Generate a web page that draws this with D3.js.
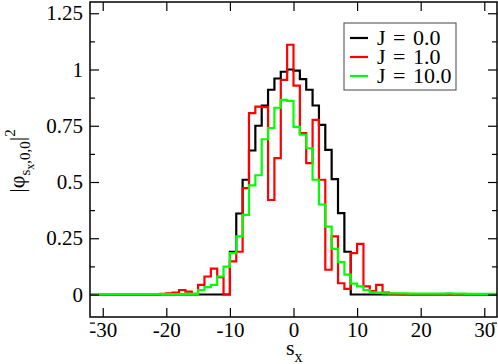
<!DOCTYPE html>
<html>
<head>
<meta charset="utf-8">
<script src="https://cdn.jsdelivr.net/npm/d3@7"></script>
<style>
  body { margin: 0; background: #fff; }
  text { font-family: "Liberation Serif", "Times New Roman", serif; fill: #000; }
</style>
</head>
<body>
<div id="chart"></div>
<script>
// s_x bins from -32 to 31 (left edge of each step)
var sx = d3.range(-32, 32);

var J0 = [0,0,0,0,0,0,0,0,0,0,0,0,0,0,0,0,
          0,0,0,0,0,0,0.19,0.36,0.51,0.64,0.75,0.84,0.91,0.96,0.99,1.0,
          0.995,0.957,0.91,0.84,0.754,0.643,0.513,0.362,0.19,0,0,0,0,0,0,0,
          0,0,0,0,0,0,0,0,0,0,0,0,0,0,0,0];

var J1 = [0,0,0,0,0,0,0,0,0,0,0,0.003,0.005,0.009,0.02,0.013,
          0.003,0.043,0.08,0.115,0.077,0.0,0.147,0.19,0.473,0.806,0.835,0.833,0.42,0.606,0.954,1.11,
          0.928,0.717,0.584,0.776,0.51,0.11,0.258,0.05,0.025,0.184,0.225,0.036,0.015,0.043,0.008,0.004,
          0.002,0,0,0,0,0,0,0,0,0,0,0,0,0,0,0];

var J10 = [0.002,0.002,0.002,0.002,0.002,0.002,0.002,0.002,0.002,0.002,0.002,0.002,0.002,0.002,0.002,0.003,
           0.003,0.02,0.033,0.043,0.08,0.124,0.184,0.258,0.354,0.485,0.53,0.69,0.74,0.83,0.865,0.861,
           0.745,0.71,0.65,0.51,0.4,0.302,0.203,0.144,0.088,0.048,0.036,0.02,0.01,0.008,0.005,0.005,
           0.005,0.005,0.004,0.004,0.004,0.004,0.004,0.004,0.005,0.004,0.004,0.003,0.003,0.003,0.003,0.003];

var seriesNames = ["J = 0.0", "J = 1.0", "J = 10.0"];
var seriesColors = ["#000000", "#ff0000", "#00ff00"];
var seriesValues = [J0, J1, J10];

var xTicks = [-30, -20, -10, 0, 10, 20, 30];
var yTicks = [0, 0.25, 0.5, 0.75, 1, 1.25];
var yMinor = [-0.125, 0.125, 0.375, 0.625, 0.875, 1.125];

var svgWidth = 498, svgHeight = 364;
var margin = {top: 2, right: 1, bottom: 47, left: 90};
var width = svgWidth - margin.left - margin.right;
var height = svgHeight - margin.top - margin.bottom;

var svg = d3.select("#chart").append("svg")
    .attr("width", svgWidth)
    .attr("height", svgHeight);

var chartGroup = svg.append("g")
    .attr("transform", `translate(${margin.left}, ${margin.top})`);

var x = d3.scaleLinear().domain([-32, 32]).range([0, width]);
var y = d3.scaleLinear().domain([-0.1, 1.3]).range([height, 0]);

chartGroup.append("clipPath").attr("id", "clip")
  .append("rect").attr("width", width).attr("height", height);

// step lines
var line = d3.line()
    .x(d => x(d[0]))
    .y(d => y(d[1]))
    .curve(d3.curveStepAfter);

seriesValues.forEach(function(vals, k) {
  var pts = sx.map((s, i) => [s, vals[i]]);
  pts.push([32, vals[vals.length - 1]]);
  chartGroup.append("path")
    .datum(pts)
    .attr("clip-path", "url(#clip)")
    .attr("fill", "none")
    .attr("stroke", seriesColors[k])
    .attr("stroke-width", 2.2)
    .attr("d", line);
});

// axes (ticks point inward)
function styleAxis(g) {
  g.select(".domain").remove();
  g.selectAll("line").attr("stroke", "#000").attr("stroke-width", 1.2);
  g.selectAll("text").style("font-family", '"Liberation Serif", "Times New Roman", serif')
    .style("font-size", "21px").attr("fill", "#000");
}

chartGroup.append("g")
  .attr("transform", `translate(0, ${height})`)
  .call(d3.axisBottom(x).tickValues(xTicks).tickSize(-9).tickPadding(5).tickFormat(d => String(d)))
  .call(styleAxis);

chartGroup.append("g")
  .call(d3.axisTop(x).tickValues(xTicks).tickSize(-9).tickFormat(""))
  .call(styleAxis);

chartGroup.append("g")
  .call(d3.axisLeft(y).tickValues(yTicks).tickSize(-9).tickPadding(7).tickFormat(d => String(d)))
  .call(styleAxis);

chartGroup.append("g")
  .call(d3.axisLeft(y).tickValues(yMinor).tickSize(-5).tickFormat(""))
  .call(styleAxis);

chartGroup.append("g")
  .attr("transform", `translate(${width}, 0)`)
  .call(d3.axisRight(y).tickValues(yTicks).tickSize(-9).tickFormat(""))
  .call(styleAxis);

chartGroup.append("g")
  .attr("transform", `translate(${width}, 0)`)
  .call(d3.axisRight(y).tickValues(yMinor).tickSize(-5).tickFormat(""))
  .call(styleAxis);

// frame
chartGroup.append("rect")
  .attr("width", width).attr("height", height)
  .attr("fill", "none").attr("stroke", "#000").attr("stroke-width", 1.5);

// x axis title
var xt = svg.append("text")
  .attr("x", 286)
  .attr("y", 355)
  .style("font-size", "22px");
xt.append("tspan").text("s");
xt.append("tspan").attr("dy", 7).style("font-size", "16px").text("x");

// y axis title
var yt = svg.append("text")
  .attr("transform", "translate(24, 161) rotate(-90)")
  .attr("text-anchor", "middle")
  .style("font-size", "22px");
yt.append("tspan").text("|\u03c6");
yt.append("tspan").attr("dy", 6).style("font-size", "15px").text("s");
yt.append("tspan").attr("dy", 4).style("font-size", "12px").text("x");
yt.append("tspan").attr("dy", -4).style("font-size", "15px").text(",0,0");
yt.append("tspan").attr("dy", -6).text("|");
yt.append("tspan").attr("dy", -9).style("font-size", "15px").text("2");

// legend
var legend = svg.append("g").attr("transform", "translate(344, 23)");
legend.append("rect")
  .attr("width", 112).attr("height", 67)
  .attr("fill", "#fff").attr("stroke", "#444").attr("stroke-width", 1);

seriesNames.forEach(function(name, k) {
  var cy = 15 + k * 19;
  legend.append("line")
    .attr("x1", 6).attr("x2", 24)
    .attr("y1", cy).attr("y2", cy)
    .attr("stroke", seriesColors[k]).attr("stroke-width", 2.2);
  legend.append("text")
    .attr("x", 33).attr("y", cy + 7)
    .style("font-size", "22px")
    .style("word-spacing", "2px")
    .text(name);
});
</script>
</body>
</html>
